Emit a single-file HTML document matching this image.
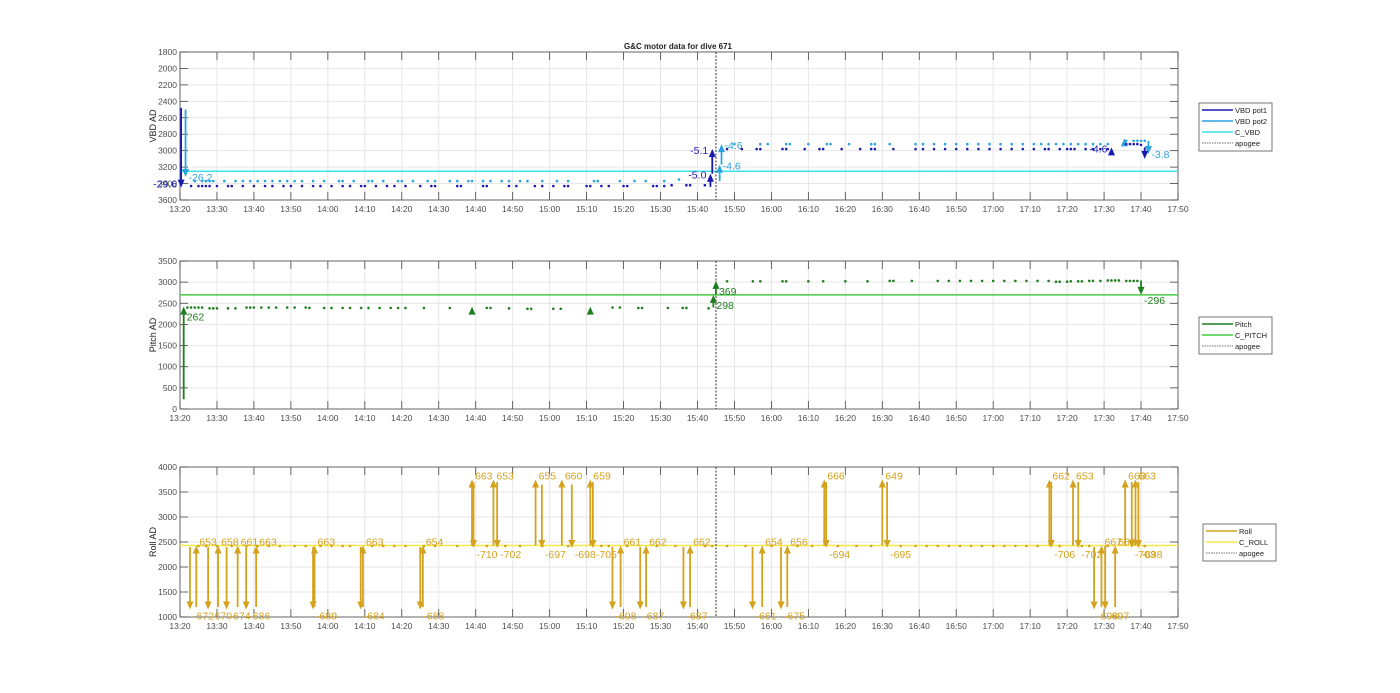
<!DOCTYPE html>
<html><head><meta charset="utf-8"><style>
body{margin:0;background:#fff;}
svg{display:block;font-family:"Liberation Sans",sans-serif;}
</style></head><body>
<svg id="fig" width="1400" height="693" viewBox="0 0 1400 693">
<rect width="1400" height="693" fill="#fff"/>
<text x="678" y="49" font-size="8" font-weight="bold" text-anchor="middle" fill="#222">G&amp;C motor data for dive 671</text>
</svg>
<script>
// x axis: minutes after 13:20
const xTickLabels = ["13:20","13:30","13:40","13:50","14:00","14:10","14:20","14:30","14:40","14:50","15:00","15:10","15:20","15:30","15:40","15:50","16:00","16:10","16:20","16:30","16:40","16:50","17:00","17:10","17:20","17:30","17:40","17:50"];
const apogeeTime = 145;
// VBD panel
const vbdTicks = [1800,2000,2200,2400,2600,2800,3000,3200,3400,3600];
const cVbd = 3250;
const vbd1Times = [3,5,6,7,8,10,13,14,17,20,23,25,28,30,33,36,38,41,44,46,49,50,53,56,58,61,65,68,69,75,76,82,83,89,91,96,98,101,104,105,110,111,114,116,120,121,128,129,131,133,137,138,142,148,152,156,157,163,164,169,173,174,179,184,187,188,193,199,201,204,207,210,213,216,219,222,225,228,231,234,235,238,240,241,242,245,247,249,251,256,257,258,259,260];
const vbd1Values = [3430,3430,3430,3430,3430,3430,3430,3430,3430,3430,3430,3430,3430,3430,3430,3430,3430,3430,3430,3430,3430,3430,3430,3430,3430,3430,3430,3430,3430,3430,3430,3430,3430,3430,3430,3430,3430,3430,3430,3430,3430,3430,3430,3430,3430,3430,3430,3430,3430,3420,3420,3420,3420,2980,2980,2980,2980,2980,2980,2980,2980,2980,2980,2980,2980,2980,2980,2980,2980,2980,2980,2980,2980,2980,2980,2980,2980,2980,2980,2980,2980,2980,2980,2980,2980,2980,2980,2980,2980,2920,2920,2920,2920,2930];
const vbd2Times = [4,6,7,8,9,12,15,17,19,21,23,25,27,29,31,33,36,39,43,44,47,51,52,55,59,60,63,67,69,73,75,78,79,82,84,87,89,92,94,98,102,105,112,113,119,123,126,131,135,150,157,159,164,165,170,175,176,181,187,188,192,199,201,204,207,210,213,216,219,222,225,228,231,233,235,237,239,241,243,245,247,249,251,256,258,259,260,261];
const vbd2Values = [3370,3370,3370,3370,3370,3370,3370,3370,3370,3370,3370,3370,3370,3370,3370,3370,3370,3370,3370,3370,3370,3370,3370,3370,3370,3370,3370,3370,3370,3370,3370,3370,3370,3370,3370,3370,3370,3370,3370,3370,3370,3370,3370,3370,3370,3370,3370,3370,3350,2920,2920,2920,2920,2920,2920,2920,2920,2920,2920,2920,2920,2920,2920,2920,2920,2920,2920,2920,2920,2920,2920,2920,2920,2920,2920,2920,2920,2920,2920,2920,2920,2920,2920,2880,2880,2880,2880,2880];
const vbd1ArrowTimes = [0.3,143.5,144,252,261];
const vbd1ArrowFrom = [2480,3440,3280,3000,2960];
const vbd1ArrowTo = [3450,3280,2980,2960,3100];
const vbd1ArrowLabels = ["-29.6","-5.0","-5.1","-4.6",""];
const vbd2ArrowTimes = [1.5,146,146.5,255.5,262];
const vbd2ArrowFrom = [2500,3370,3170,2920,2880];
const vbd2ArrowTo = [3320,3170,2920,2850,3040];
const vbd2ArrowLabels = ["-26.2","-4.6","-4.6","","-3.8"];
// Pitch panel
const pitchTicks = [0,500,1000,1500,2000,2500,3000,3500];
const cPitch = 2700;
const pitchTimes = [2,3,4,5,6,8,9,10,13,15,18,19,20,22,24,26,29,31,34,35,39,41,44,46,49,51,54,57,59,61,66,73,83,84,89,94,95,101,103,117,119,124,125,132,136,137,143,148,155,157,163,164,170,174,180,186,192,193,198,205,208,211,214,217,220,223,226,229,232,235,237,238,240,241,243,244,246,247,249,251,252,253,254,256,257,258,259];
const pitchValues = [2400,2400,2400,2400,2400,2380,2380,2380,2380,2380,2400,2400,2400,2400,2400,2400,2400,2400,2400,2390,2390,2390,2390,2390,2390,2390,2390,2390,2390,2390,2390,2390,2390,2390,2380,2370,2370,2370,2370,2400,2400,2390,2390,2390,2390,2390,2380,3020,3020,3020,3020,3020,3020,3020,3020,3020,3030,3030,3030,3030,3030,3030,3030,3030,3030,3030,3030,3030,3030,3030,3010,3010,3010,3020,3020,3020,3030,3030,3030,3040,3040,3040,3040,3030,3030,3030,3030];
const pitchArrowTimes = [1,79,111,144.3,145,260];
const pitchArrowFrom = [230,2340,2340,2400,2700,3040];
const pitchArrowTo = [2420,2420,2420,2700,3030,2700];
const pitchArrowLabels = ["262","","","298","369","-296"];
// Roll panel
const rollTicks = [1000,1500,2000,2500,3000,3500,4000];
const cRoll = 2430;
const rollTimes = [5,7,10,14,18,21,24,27,31,34,38,41,44,46,52,55,58,61,66,69,75,83,88,92,98,105,114,116,121,129,134,142,144,148,153,160,167,171,178,183,187,195,199,202,205,208,211,214,217,220,223,226,229,232,238,244,246,251,261];
const rollValues = [2420,2420,2420,2420,2420,2420,2420,2420,2420,2420,2420,2420,2420,2420,2420,2420,2420,2420,2420,2420,2420,2420,2420,2420,2420,2420,2420,2420,2420,2420,2420,2420,2420,2420,2420,2420,2420,2420,2420,2420,2420,2420,2420,2420,2420,2420,2420,2420,2420,2420,2420,2420,2420,2420,2420,2420,2420,2420,2420];
const rollArrowTimes = [2.7,4.4,7.6,10.3,12.6,15.6,17.9,20.6,36,36.4,48.9,49.5,65,65.7,79,79.4,84.8,85.8,96.2,97.9,103.3,106,111,111.7,117,119.2,124.5,126.1,136.2,138,154.9,157.5,162.6,164.3,174.3,174.8,190,191.3,235.2,235.7,241.6,243,247.3,249.3,250.3,253,255.7,257.5,258.5,259.3];
const rollArrowFrom = [2400,1200,2400,1200,2400,1200,2400,1200,2400,1200,2400,1200,2400,1200,2430,3700,2430,3700,2430,3650,2430,3650,2430,3700,2400,1200,2400,1200,2400,1200,2400,1200,2400,1200,2430,3700,2430,3700,2430,3700,2430,3700,2400,1200,2420,1200,2430,3700,2430,3700];
const rollArrowTo = [1150,2430,1150,2430,1150,2430,1150,2430,1150,2430,1150,2430,1150,2430,3750,2380,3750,2380,3750,2380,3750,2380,3750,2380,1150,2430,1150,2430,1150,2430,1150,2430,1150,2430,3750,2380,3750,2380,3750,2380,3750,2380,1150,2430,1150,2430,3750,2380,3750,2380];
const rollArrowLabels = ["-672","653","-670","658","-674","661","-686","663","-689","663","-684","663","-688","654","663","-710","653","-702","655","-697","660","-698","659","-705","-698","661","-687","662","-687","662","-661","654","-675","656","666","-694","649","-695","662","-706","653","-702","-698","667","-697","668","668","-703","663","-698"];

const NS="http://www.w3.org/2000/svg";
const svg=document.getElementById('fig');
const X0=180,X1=1178,TMAX=270;
function xs(t){return X0+(X1-X0)*t/TMAX;}
function mk(tag,attrs,parent){const e=document.createElementNS(NS,tag);for(const k in attrs)e.setAttribute(k,attrs[k]);(parent||svg).appendChild(e);return e;}

function panel(p){
  const g=mk('g',{});
  
  
  const ys=v=>p.reverse? p.top+(v-p.min)/(p.max-p.min)*(p.bot-p.top) : p.bot-(v-p.min)/(p.max-p.min)*(p.bot-p.top);
  mk('rect',{x:X0,y:p.top,width:X1-X0,height:p.bot-p.top,fill:'#fff'},g);
  xTickLabels.forEach((l,i)=>{const x=xs(i*10);
    mk('line',{x1:x,x2:x,y1:p.top,y2:p.bot,stroke:'#e6e6e6','stroke-width':1},g);
    mk('line',{x1:x,x2:x,y1:p.bot,y2:p.bot-8,stroke:'#444','stroke-width':0.8},g);
    mk('line',{x1:x,x2:x,y1:p.top,y2:p.top+8,stroke:'#444','stroke-width':0.8},g);
    const t=mk('text',{x:x,y:p.bot+12,'font-size':8.5,'text-anchor':'middle',fill:'#4d4d4d'},g);t.textContent=l;
    
    
  });
  p.ticks.forEach(v=>{const y=ys(v);
    mk('line',{x1:X0,x2:X1,y1:y,y2:y,stroke:'#e6e6e6','stroke-width':1},g);
    mk('line',{x1:X0,x2:X0+8,y1:y,y2:y,stroke:'#444','stroke-width':0.8},g);
    mk('line',{x1:X1,x2:X1-8,y1:y,y2:y,stroke:'#444','stroke-width':0.8},g);
    const t=mk('text',{x:X0-3,y:y+3,'font-size':8.5,'text-anchor':'end',fill:'#4d4d4d'},g);t.textContent=v;
    
    
  });
  mk('rect',{x:X0,y:p.top,width:X1-X0,height:p.bot-p.top,fill:'none',stroke:'#444','stroke-width':0.8},g);
  const yt=mk('text',{x:0,y:0,'font-size':9,'text-anchor':'middle',fill:'#222',transform:`translate(${X0-24},${(p.top+p.bot)/2}) rotate(-90)`},g);
  yt.textContent=p.ylabel;
  
  
  const cl=mk('line',{x1:X0,x2:X1,y1:ys(p.cmd),y2:ys(p.cmd),stroke:p.cmdColor,'stroke-width':1.5},g);
  
  
  const ap=mk('line',{x1:xs(apogeeTime),x2:xs(apogeeTime),y1:p.top,y2:p.bot,stroke:'#333','stroke-width':1,'stroke-dasharray':'2,1.5'},g);
  
  
  p.series.forEach(s=>{
    s.times.forEach((t,i)=>{const c=mk('circle',{cx:xs(t),cy:ys(s.values[i]),r:1.3,fill:s.color},g);
      
      });
    s.at.forEach((t,i)=>{
      const x=xs(t),y1=ys(s.af[i]),y2=ys(s.ato[i]);const dir=y2<y1?-1:1;
      const ln=mk('line',{x1:x,x2:x,y1:y1,y2:y2-dir*6,stroke:s.color,'stroke-width':1.8},g);
      
      
      mk('polygon',{points:`${x-3.5},${y2-dir*8} ${x+3.5},${y2-dir*8} ${x},${y2}`,fill:s.color},g);
      const lab=s.al[i];
      if(lab){const left=s.left;
        const ty=y2+(dir<0? s.upDy : s.downDy);
        const tx=mk('text',{x:left?x-4:x+3,y:ty,'font-size':10.5,'text-anchor':left?'end':'start',fill:s.color},g);
        tx.textContent=lab;
        
        }
    });
  });
  const lg=mk('g',{},g);
  
  
  const lh=p.legend.length*11+4;
  mk('rect',{x:p.lx,y:p.ly,width:73,height:lh,fill:'#fff',stroke:'#555','stroke-width':0.8},lg);
  p.legend.forEach((e,i)=>{const y=p.ly+7+i*11;
    mk('line',{x1:p.lx+3,x2:p.lx+34,y1:y,y2:y,stroke:e[1],'stroke-width':e[2]?0.8:1.6,'stroke-dasharray':e[2]?'1.5,1':''},lg);
    const t=mk('text',{x:p.lx+36,y:y+3,'font-size':7.5,fill:'#222'},lg);t.textContent=e[0];
    
    
  });
}

const dark='#1a1ab0',light='#2aa4e0',cyan='#3ee0e8';
panel({name:'vbd',top:52,bot:200,min:1800,max:3600,reverse:true,ticks:vbdTicks,ylabel:'VBD AD',cmd:cVbd,cmdColor:cyan,
  series:[{name:'vbd-pot2',color:light,times:vbd2Times,values:vbd2Values,at:vbd2ArrowTimes,af:vbd2ArrowFrom,ato:vbd2ArrowTo,al:vbd2ArrowLabels,left:false,upDy:5,downDy:4},
          {name:'vbd-pot1',color:dark,times:vbd1Times,values:vbd1Values,at:vbd1ArrowTimes,af:vbd1ArrowFrom,ato:vbd1ArrowTo,al:vbd1ArrowLabels,left:true,upDy:5,downDy:0}],
  lx:1199,ly:103,legend:[['VBD pot1',dark],['VBD pot2',light],['C_VBD',cyan],['apogee','#444',1]]});
panel({name:'pitch',top:261,bot:409,min:0,max:3500,ticks:pitchTicks,ylabel:'Pitch AD',cmd:cPitch,cmdColor:'#44cc44',
  series:[{name:'pitch',color:'#1e7e1e',times:pitchTimes,values:pitchValues,at:pitchArrowTimes,af:pitchArrowFrom,ato:pitchArrowTo,al:pitchArrowLabels,left:false,upDy:14,downDy:9}],
  lx:1199,ly:317,legend:[['Pitch','#1e7e1e'],['C_PITCH','#44cc44'],['apogee','#444',1]]});
panel({name:'roll',top:467,bot:617,min:1000,max:4000,ticks:rollTicks,ylabel:'Roll AD',cmd:cRoll,cmdColor:'#f6e84a',
  series:[{name:'roll',color:'#d4a21c',times:rollTimes,values:rollValues,at:rollArrowTimes,af:rollArrowFrom,ato:rollArrowTo,al:rollArrowLabels,left:false,upDy:0,downDy:10}],
  lx:1203,ly:524,legend:[['Roll','#d4a21c'],['C_ROLL','#f6e84a'],['apogee','#444',1]]});
</script>
</body></html>
